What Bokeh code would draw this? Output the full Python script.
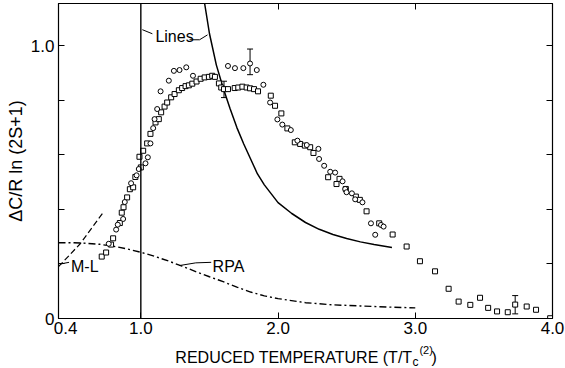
from bokeh.plotting import figure
from bokeh.layouts import column
from bokeh.models import (Range1d, FixedTicker, LinearAxis, Label, Span,
                          NumeralTickFormatter, ColumnDataSource, Whisker, TeeHead)
from bokeh.embed import file_html
from bokeh.resources import INLINE

# ---------------- data ----------------
sq_x = [0.715, 0.747, 0.783, 0.798, 0.847, 0.861, 0.874, 0.900, 0.920, 0.944, 0.960,
        1.000, 0.990, 1.017, 1.046, 1.070, 1.107, 1.131, 1.148, 1.173, 1.192, 1.221,
        1.246, 1.277, 1.301, 1.326, 1.350, 1.375, 1.406, 1.436, 1.465, 1.496, 1.520,
        1.540, 1.569, 1.586, 1.606, 1.635, 1.684, 1.710, 1.740, 1.771, 1.796, 1.825,
        1.854, 1.947, 1.978, 2.024, 2.068, 2.122, 2.161, 2.195, 2.234, 2.258, 2.365,
        2.426, 2.448, 2.494, 2.567, 2.596, 2.645, 2.737, 2.835, 2.937, 3.034, 3.144,
        3.243, 3.316, 3.401, 3.472, 3.531, 3.596, 3.674, 3.728, 3.812, 3.880, 3.983]
sq_y = [0.227, 0.242, 0.271, 0.294, 0.350, 0.388, 0.408, 0.444, 0.474, 0.481, 0.519,
        0.554, 0.593, 0.615, 0.642, 0.677, 0.719, 0.731, 0.756, 0.777, 0.792, 0.811,
        0.823, 0.837, 0.845, 0.852, 0.855, 0.861, 0.869, 0.879, 0.884, 0.886, 0.890,
        0.886, 0.862, 0.847, 0.841, 0.841, 0.845, 0.847, 0.850, 0.847, 0.844, 0.841,
        0.833, 0.817, 0.780, 0.752, 0.697, 0.646, 0.640, 0.634, 0.628, 0.607, 0.518,
        0.493, 0.512, 0.475, 0.447, 0.435, 0.393, 0.349, 0.308, 0.264, 0.210, 0.173,
        0.109, 0.062, 0.050, 0.076, 0.039, 0.026, 0.023, 0.051, 0.044, 0.032, 0.001]

ci_x = [0.766, 0.820, 0.832, 0.871, 0.883, 0.929, 0.969, 0.985, 1.034, 1.051, 1.070,
        1.090, 1.100, 1.119, 1.144, 1.204, 1.241, 1.282, 1.331, 1.380, 1.635, 1.686,
        1.747, 1.796, 1.845, 1.893, 1.942, 1.995, 2.031, 2.093, 2.141, 2.209, 2.294,
        2.299, 2.336, 2.380, 2.416, 2.470, 2.489, 2.499, 2.538, 2.562, 2.615, 2.677,
        2.708, 2.750, 2.769]
ci_y = [0.274, 0.326, 0.344, 0.365, 0.427, 0.496, 0.525, 0.548, 0.569, 0.591, 0.642,
        0.698, 0.731, 0.768, 0.833, 0.872, 0.908, 0.911, 0.921, 0.890, 0.926, 0.918,
        0.918, 0.935, 0.911, 0.857, 0.792, 0.730, 0.711, 0.691, 0.652, 0.636, 0.622,
        0.585, 0.560, 0.538, 0.535, 0.503, 0.475, 0.463, 0.459, 0.437, 0.426, 0.349,
        0.307, 0.343, 0.337]

err_x = [1.606, 1.796, 3.728]
err_lo = [0.810, 0.894, 0.017]
err_hi = [0.870, 0.988, 0.084]

lines_tc = 1.0
lines_x = [1.465, 1.50, 1.55, 1.60, 1.65, 1.70, 1.75, 1.80, 1.85, 1.90, 2.00, 2.10,
           2.20, 2.30, 2.40, 2.50, 2.60, 2.70, 2.83]
lines_y = [1.155, 1.045, 0.93, 0.845, 0.77, 0.70, 0.64, 0.585, 0.53, 0.49, 0.425, 0.385,
           0.352, 0.327, 0.308, 0.293, 0.281, 0.271, 0.26]

rpa_x = [0.40, 0.50, 0.60, 0.70, 0.80, 0.90, 1.00, 1.10, 1.20, 1.30, 1.40, 1.50, 1.60,
         1.70, 1.80, 1.90, 2.00, 2.20, 2.40, 2.60, 2.80, 3.00]
rpa_y = [0.278, 0.278, 0.276, 0.272, 0.265, 0.255, 0.243, 0.228, 0.211, 0.192, 0.172,
         0.153, 0.135, 0.115, 0.097, 0.083, 0.073, 0.058, 0.050, 0.046, 0.042, 0.039]

ml_x = [0.40, 0.56, 0.72]
ml_y = [0.19, 0.275, 0.385]

x_ticks = [0.4, 1.0, 2.0, 3.0, 4.0]
y_labeled = [0.0, 1.0]
y_minor = [0.2, 0.4, 0.6, 0.8]
right_ticks = [0.2, 0.4, 0.6, 0.8, 1.0]
top_ticks = [2.0, 3.0]

x_title = "REDUCED TEMPERATURE (T/T"
x_title_sub = "c"
x_title_sup = "(2)"
x_title_end = ")"
y_title = "ΔC/R ln (2S+1)"

FONT = "Liberation Sans"
XR = Range1d(0.4, 4.0)

# ---------------- main figure ----------------
p = figure(width=565, height=340, output_backend="svg", toolbar_location=None,
           title=None, x_range=XR, y_range=Range1d(0, 1.155),
           min_border_left=58, min_border_right=13, min_border_top=3,
           min_border_bottom=22, background_fill_color="white",
           border_fill_color="white")
p.xgrid.visible = False
p.ygrid.visible = False
p.outline_line_color = "black"
p.outline_line_width = 1.2

xa = p.xaxis[0]
xa.ticker = FixedTicker(ticks=x_ticks)
xa.formatter = NumeralTickFormatter(format="0.0")
xa.major_label_overrides = {0.4: "\u00a0\u00a0\u00a00.4"}
xa.major_tick_in = 6
xa.major_tick_out = 0
xa.minor_tick_line_color = None
xa.axis_line_color = "black"
xa.major_label_text_font = FONT
xa.major_label_text_font_size = "17px"
xa.major_label_text_color = "black"
xa.major_label_standoff = 0

ya = p.yaxis[0]
ya.ticker = FixedTicker(ticks=y_labeled, minor_ticks=y_minor)
ya.formatter = NumeralTickFormatter(format="0.0")
ya.major_label_overrides = {0: "0"}
ya.major_tick_in = 6
ya.major_tick_out = 0
ya.minor_tick_in = 6
ya.minor_tick_out = 0
ya.axis_line_color = "black"
ya.major_label_text_font = FONT
ya.major_label_text_font_size = "17px"
ya.major_label_text_color = "black"
ya.major_label_standoff = 4
ya.axis_label = y_title
ya.axis_label_text_font = FONT
ya.axis_label_text_font_size = "18px"
ya.axis_label_text_font_style = "normal"
ya.axis_label_text_color = "black"
ya.axis_label_standoff = 2

ra = LinearAxis(ticker=FixedTicker(ticks=[], minor_ticks=right_ticks),
                minor_tick_in=6, minor_tick_out=0, major_tick_out=0,
                major_label_standoff=0, axis_line_color="black")
ta = LinearAxis(ticker=FixedTicker(ticks=[], minor_ticks=top_ticks),
                minor_tick_in=6, minor_tick_out=0, major_tick_out=0,
                major_label_standoff=0, axis_line_color="black")
p.add_layout(ra, "right")
p.add_layout(ta, "above")

# theory curves
p.add_layout(Span(location=lines_tc, dimension="height", line_color="black", line_width=1.4))
p.line(lines_x, lines_y, line_color="black", line_width=1.5)
p.line(rpa_x, rpa_y, line_color="black", line_width=1.4, line_dash="7 3 2 3")
p.line(ml_x, ml_y, line_color="black", line_width=1.2, line_dash="6 3")

# data
p.scatter(sq_x, sq_y, marker="square", size=5, fill_color="white", line_color="black",
          line_width=1)
p.scatter(ci_x, ci_y, marker="circle", size=5, fill_color="white", line_color="black",
          line_width=1)

esrc = ColumnDataSource(dict(x=err_x, lo=err_lo, hi=err_hi))
p.add_layout(Whisker(source=esrc, base="x", lower="lo", upper="hi", line_width=1,
                     upper_head=TeeHead(size=6, line_width=1),
                     lower_head=TeeHead(size=6, line_width=1)))

# curve labels with leaders
leaders = [([1.011, 1.084], [1.059, 1.044]),
           ([1.355, 1.428, 1.486], [1.022, 1.022, 1.040]),
           ([0.415, 0.477], [0.200, 0.206]),
           ([1.28, 1.40, 1.513], [0.194, 0.204, 0.206])]
for lx, ly in leaders:
    p.line(lx, ly, line_color="black", line_width=1)

for txt, tx, ty in [("Lines", 1.106, 1.033), ("M-L", 0.491, 0.19), ("RPA", 1.523, 0.189)]:
    p.add_layout(Label(x=tx, y=ty, text=txt, text_font=FONT, text_font_size="16px",
                       text_baseline="middle", text_align="left", text_color="black"))

# ---------------- strip below for the x-axis title ----------------
p2 = figure(width=565, height=28, output_backend="svg", toolbar_location=None,
            title=None, x_range=XR, y_range=Range1d(0, 28), x_axis_location=None,
            y_axis_location=None, min_border_left=58, min_border_right=13,
            min_border_top=0, min_border_bottom=0, background_fill_color="white",
            border_fill_color="white", outline_line_color=None)
p2.xgrid.visible = False
p2.ygrid.visible = False
p2.add_layout(Label(x=2.979, y=11, text=x_title, text_font=FONT, text_font_size="16px",
                    text_align="right", text_baseline="alphabetic", text_color="black"))
p2.add_layout(Label(x=2.979, y=7, text=x_title_sub, text_font=FONT, text_font_size="12px",
                    text_align="left", text_baseline="alphabetic", text_color="black"))
p2.add_layout(Label(x=3.030, y=19, text=x_title_sup, text_font=FONT, text_font_size="11px",
                    text_align="left", text_baseline="alphabetic", text_color="black"))
p2.add_layout(Label(x=3.118, y=11, text=x_title_end, text_font=FONT, text_font_size="16px",
                    text_align="left", text_baseline="alphabetic", text_color="black"))

layout = column(p, p2, spacing=0)
open("out.html", "w").write(file_html(layout, INLINE))
